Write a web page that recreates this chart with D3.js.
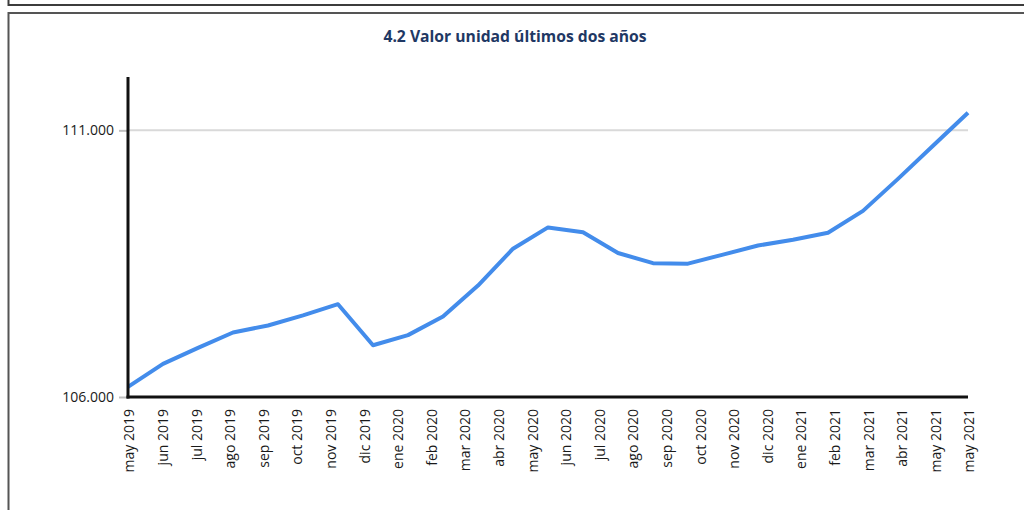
<!DOCTYPE html>
<html>
<head>
<meta charset="utf-8">
<script src="https://cdn.jsdelivr.net/npm/d3@7"></script>
<style>
  body { margin: 0; background: #fff; }
  svg { display: block; font-family: "Open Sans", sans-serif; }
</style>
</head>
<body>
<div id="chart"></div>
<script>
const width = 1024, height = 510;

// Meses del eje (26 etiquetas, "may 2021" aparece dos veces como en el original)
const monthLabels = [
  "may 2019", "jun 2019", "jul 2019", "ago 2019", "sep 2019", "oct 2019", "nov 2019", "dic 2019",
  "ene 2020", "feb 2020", "mar 2020", "abr 2020", "may 2020", "jun 2020", "jul 2020", "ago 2020",
  "sep 2020", "oct 2020", "nov 2020", "dic 2020", "ene 2021", "feb 2021", "mar 2021", "abr 2021",
  "may 2021", "may 2021"
];

// Valor unidad mensual (25 puntos)
const unitValues = [
  106190, 106620, 106920, 107210, 107340, 107530, 107740, 106970,
  107160, 107510, 108090, 108780, 109180, 109090, 108700, 108510,
  108500, 108670, 108840, 108950, 109080, 109490, 110090, 110710, 111330
];

const yTicks = [106000, 111000];
const yDomain = [106000, 112000];

const title = "4.2 Valor unidad últimos dos años";

const plotLeft = 128, plotRight = 968, plotTop = 77, plotBottom = 397;

const es = d3.formatLocale({ decimal: ",", thousands: ".", grouping: [3], currency: ["$", ""] });
const fmt = es.format(",.0f");

const svg = d3.select("#chart")
  .append("svg")
  .attr("width", width)
  .attr("height", height);

// Marcos de la página
svg.append("path")
  .attr("d", `M8.5,0 V5 H${width}`)
  .attr("fill", "none")
  .attr("stroke", "#3c3c3c")
  .attr("stroke-width", 2);
svg.append("path")
  .attr("d", `M8.5,${height} V13 H${width}`)
  .attr("fill", "none")
  .attr("stroke", "#555")
  .attr("stroke-width", 2);

svg.append("text")
  .attr("x", 515)
  .attr("y", 42)
  .attr("text-anchor", "middle")
  .style("font-size", "15.7px")
  .style("font-weight", "bold")
  .style("fill", "#1f3864")
  .text(title);

const y = d3.scaleLinear().domain(yDomain).range([plotBottom, plotTop]);
const xData = d3.scaleLinear().domain([0, unitValues.length - 1]).range([plotLeft, plotRight]);
const xLabel = d3.scalePoint().domain(d3.range(monthLabels.length)).range([plotLeft, plotRight]);

// Líneas de cuadrícula
svg.selectAll("line.grid")
  .data(yTicks.filter(t => t > yDomain[0]))
  .join("line")
  .attr("class", "grid")
  .attr("x1", plotLeft)
  .attr("x2", plotRight)
  .attr("y1", d => y(d))
  .attr("y2", d => y(d))
  .attr("stroke", "#d9d9d9")
  .attr("stroke-width", 2);

// Eje Y
const yAxis = svg.append("g")
  .attr("transform", `translate(${plotLeft},0)`)
  .call(d3.axisLeft(y).tickValues(yTicks).tickFormat(fmt).tickSize(9).tickPadding(5));
yAxis.select(".domain").remove();
yAxis.selectAll(".tick line").attr("stroke", "#bfbfbf").attr("stroke-width", 2);
yAxis.selectAll(".tick text")
  .style("font-size", "14px")
  .style("font-family", "'Open Sans', sans-serif")
  .attr("fill", "#1a1a1a");

// Eje X (etiquetas verticales)
const xAxis = svg.append("g")
  .attr("transform", `translate(0,${plotBottom})`)
  .call(d3.axisBottom(xLabel).tickFormat(i => monthLabels[i]).tickSize(0));
xAxis.select(".domain").remove();
xAxis.selectAll(".tick text")
  .attr("transform", "rotate(-90)")
  .attr("x", -12)
  .attr("y", 1)
  .attr("dy", "0.35em")
  .attr("text-anchor", "end")
  .style("font-size", "14px")
  .style("font-family", "'Open Sans', sans-serif")
  .attr("fill", "#1a1a1a");

// Serie
const line = d3.line()
  .x((d, i) => xData(i))
  .y(d => y(d));

svg.append("path")
  .datum(unitValues)
  .attr("d", line)
  .attr("fill", "none")
  .attr("stroke", "#438ceb")
  .attr("stroke-width", 4)
  .attr("stroke-linejoin", "round");

// Líneas de ejes
svg.append("line")
  .attr("x1", plotLeft).attr("x2", plotLeft)
  .attr("y1", plotTop).attr("y2", plotBottom + 1.5)
  .attr("stroke", "#111").attr("stroke-width", 3);
svg.append("line")
  .attr("x1", plotLeft - 1.5).attr("x2", plotRight)
  .attr("y1", plotBottom).attr("y2", plotBottom)
  .attr("stroke", "#111").attr("stroke-width", 3);
</script>
</body>
</html>
